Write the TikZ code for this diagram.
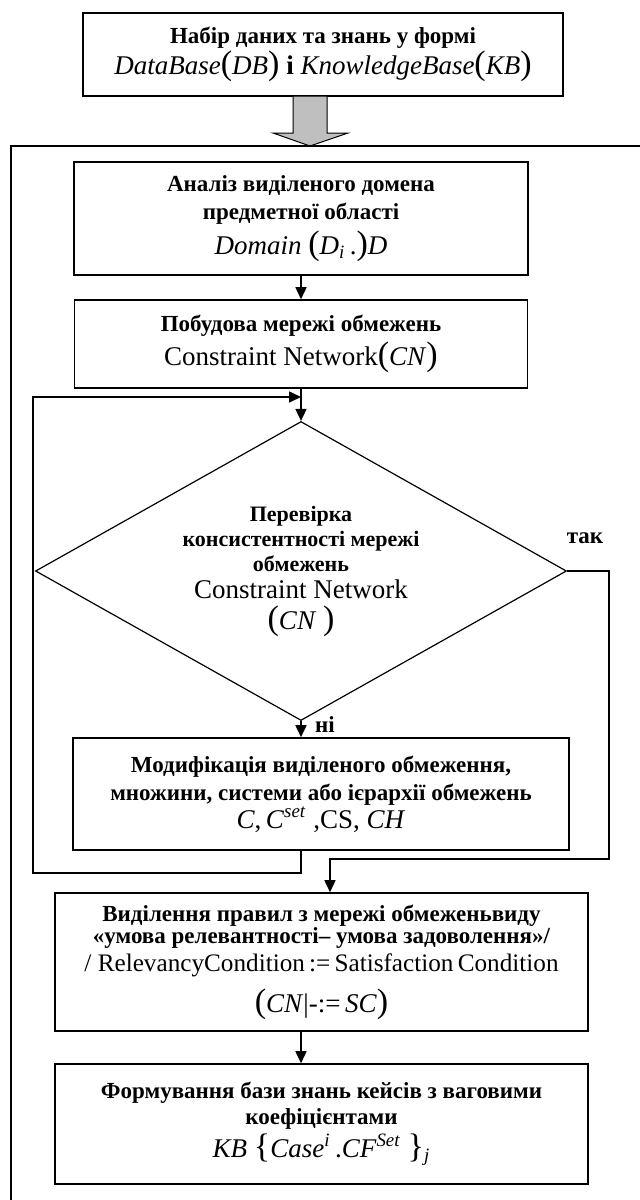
\documentclass[tikz,border=0pt]{standalone}
\usepackage{fontspec}
\setmainfont{Liberation Serif}
\usepackage{tikz}
\usetikzlibrary{shapes.geometric,arrows.meta}
\tikzstyle{every node}=[font=\fontsize{11.5}{14}\selectfont\bfseries,align=center]
\tikzstyle{box}=[draw=black,line width=0.8pt,rectangle,inner sep=0pt]
\tikzstyle{decision}=[draw=black,line width=0.6pt,diamond,aspect=1.78,inner sep=0pt]
\tikzstyle{flow}=[draw=black,line width=0.8pt,-{Triangle[length=6pt,width=5.5pt]}]
\newcommand{\frm}[1]{{\mdseries\fontsize{13.5}{16}\selectfont #1}}
\newcommand{\bigdel}[1]{{\fontsize{17}{17}\selectfont #1}}

\begin{document}
\begin{tikzpicture}[x=0.5pt,y=-0.5pt]
\useasboundingbox (0,0) rectangle (640,1200);
% input
\node[box,line width=1.3pt,minimum width=240pt,minimum height=41.5pt] (nabir) at (323,54.5)
  {Набір даних та знань у формі\\
   \frm{\textit{DataBase}\bigdel{(}\textit{DB}\bigdel{)} \textbf{і} \textit{KnowledgeBase}\bigdel{(}\textit{KB}\bigdel{)}}};
\draw[fill=gray!50,line width=0.5pt] (293,96) -- (327,96) -- (327,133) -- (348,133) -- (310,146) -- (273,133) -- (293,133) -- cycle;
\draw[line width=1.3pt] (650,146) -| (11,1210);
% steps
\node[box,minimum width=227pt,minimum height=56.5pt] (analiz) at (301,218.5)
  {Аналіз виділеного домена\\ предметної області\\[2pt]
   \frm{\textit{Domain} \bigdel{(}\textit{D}\textsubscript{\textit{i}}\,.\bigdel{)}\textit{D}}};
\node[box,minimum width=226.5pt,minimum height=44pt] (merezha) at (301,344)
  {Побудова мережі обмежень\\[1.5pt]
   \frm{Constraint Network\bigdel{(}\textit{CN}\bigdel{)}}};
\node[decision,minimum width=265.5pt,minimum height=149.5pt,font=\fontsize{11}{12.5}\selectfont\bfseries] (perevirka) at (301,571)
  {Перевірка\\ консистентності мережі\\ обмежень\\[1pt]
   \frm{Constraint Network}\\[3pt] \frm{\bigdel{(}\textit{CN} \bigdel{)}}};
\node[box,minimum width=248pt,minimum height=56pt] (modyf) at (321,794)
  {Модифікація виділеного обмеження,\\ множини, системи або ієрархії обмежень\\
   \frm{\textit{C},\,\textit{C}\textsuperscript{\textit{set}} ,CS, \textit{CH}}};
\node[box,minimum width=266.5pt,minimum height=69pt] (vydil) at (321.5,962)
  {Виділення правил з мережі обмеженьвиду\\[-3pt]
   «умова релевантності– умова задоволення»/\\
   {\mdseries\fontsize{12.6}{15}\selectfont / RelevancyCondition\,:=\,Satisfaction\,Condition}\\[5pt]
   \frm{\bigdel{(}\textit{CN}|-:=\,\textit{SC}\bigdel{)}}};
\node[box,minimum width=266.5pt,minimum height=60pt] (formuv) at (321.5,1124)
  {Формування бази знань кейсів з ваговими\\[-1pt] коефіцієнтами\\[1pt]
   \frm{\textit{KB} \bigdel{\{}\textit{Case}\textsuperscript{\textit{i}}\,.\textit{CF}\textsuperscript{\textit{Set}} \bigdel{\}}\textsubscript{\textit{j}}}};
% labels
\node (tak) at (585,538) {так};
\node (ni) at (325,725) {ні};
\coordinate (loopbot) at (33,873);
\coordinate (looptop) at (301,397);
\coordinate (vyhid) at (330,859);
% connectors
\draw[flow] (analiz) -- (merezha);
\draw[flow] (merezha.south) -- (perevirka.north);
\draw[flow] (perevirka.south) -- (perevirka.south |- modyf.north);
\draw[flow] (modyf.south -| perevirka.south) |- (loopbot) |- (looptop);
\draw[flow] (perevirka.east) -- ++(42,0) |- (vyhid) -- (vyhid |- vydil.north);
\draw[flow] (vydil.south -| perevirka.south) -- (perevirka.south |- formuv.north);
\end{tikzpicture}
\end{document}
